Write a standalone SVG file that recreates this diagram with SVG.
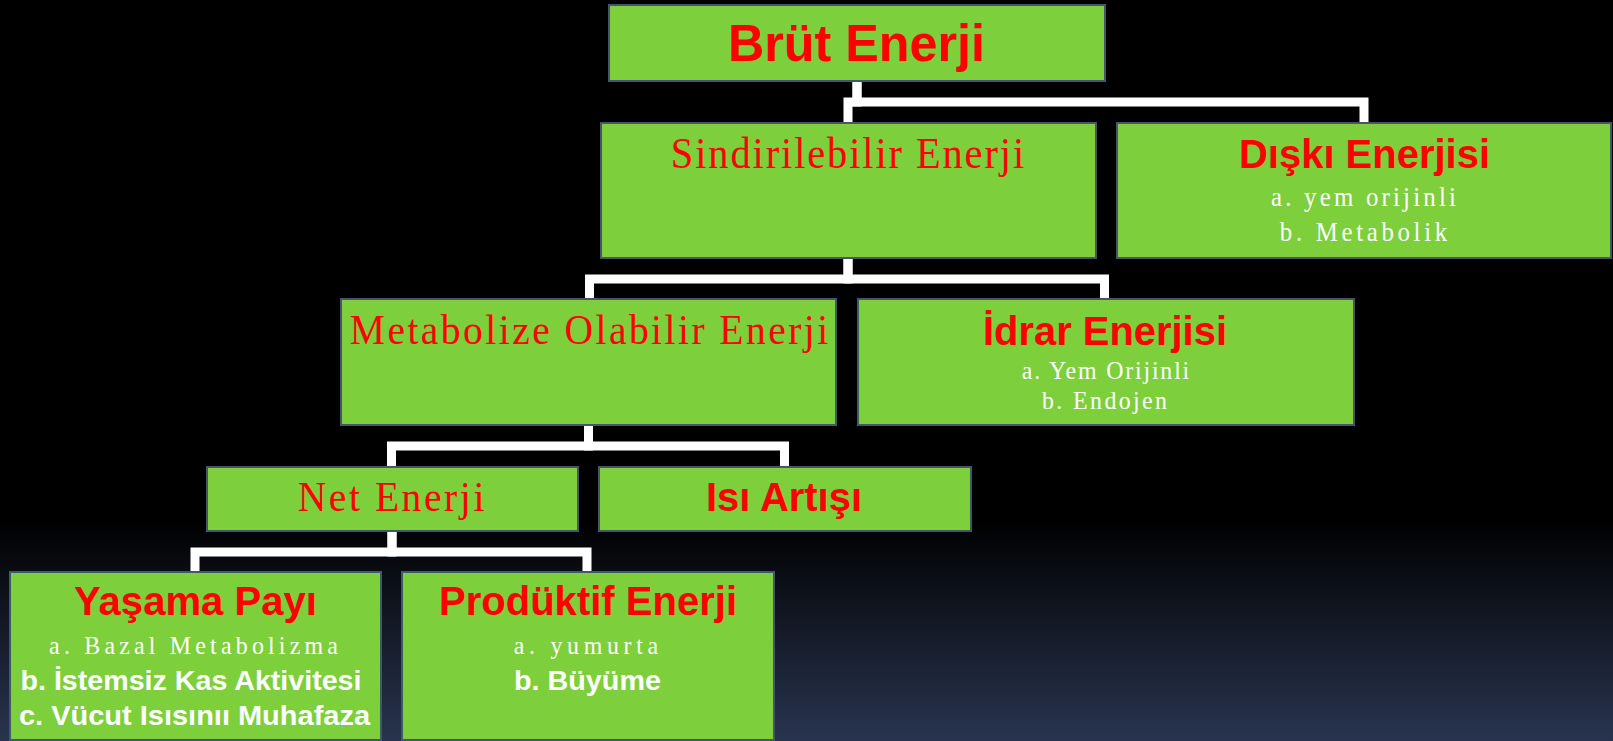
<svg xmlns="http://www.w3.org/2000/svg" width="1613" height="741" viewBox="0 0 1613 741">
<defs>
<linearGradient id="bg" x1="0" y1="0" x2="0" y2="1">
<stop offset="0" stop-color="#000000"/>
<stop offset="0.7" stop-color="#000000"/>
<stop offset="1" stop-color="#28344f"/>
</linearGradient>
<style>
.box{fill:#7dcf3c;stroke:#43576a;stroke-width:2}
.conn{fill:none;stroke:#ffffff;stroke-width:9;stroke-linejoin:miter;stroke-linecap:butt}
.tb{font-family:"Liberation Sans",Arial,sans-serif;font-weight:bold;fill:#ff0000;text-anchor:middle}
.ts{font-family:"Liberation Serif","Times New Roman",serif;fill:#ff0000;text-anchor:middle}
.ws{font-family:"Liberation Serif","Times New Roman",serif;fill:#ffffff;text-anchor:middle}
.wb{font-family:"Liberation Sans",Arial,sans-serif;font-weight:bold;fill:#ffffff;text-anchor:middle}
</style>
</defs>
<rect x="0" y="0" width="1613" height="741" fill="url(#bg)"/>
<g id="connectors">
<path class="conn" d="M857 81 V102 H848 V123"/>
<path class="conn" d="M857 81 V102 H1364 V123"/>
<path class="conn" d="M848 258 V279 H589.5 V299"/>
<path class="conn" d="M848 258 V279 H1104.5 V299"/>
<path class="conn" d="M588.5 425 V446 H391.5 V467"/>
<path class="conn" d="M588.5 425 V446 H784.5 V467"/>
<path class="conn" d="M392 531 V552 H195 V572"/>
<path class="conn" d="M392 531 V552 H587 V572"/>
</g>
<g id="brut">
<rect class="box" x="609" y="5" width="496" height="76"/>
<text class="tb" x="856.5" y="61" font-size="52" textLength="257" lengthAdjust="spacingAndGlyphs">Brüt Enerji</text>
</g>
<g id="sindirilebilir">
<rect class="box" x="601" y="123" width="495" height="135"/>
<text class="ts" transform="translate(847.5 0) scale(0.92 1)" x="0" y="168" font-size="44" textLength="384" lengthAdjust="spacing">Sindirilebilir Enerji</text>
</g>
<g id="diski">
<rect class="box" x="1117" y="123" width="494" height="135"/>
<text class="tb" x="1364.5" y="168" font-size="40" textLength="251" lengthAdjust="spacingAndGlyphs">Dışkı Enerjisi</text>
<text class="ws" transform="translate(1363.5 0) scale(0.92 1)" x="0" y="206" font-size="27" textLength="201" lengthAdjust="spacing">a. yem orijinli</text>
<text class="ws" transform="translate(1363.5 0) scale(0.92 1)" x="0" y="241" font-size="27" textLength="182" lengthAdjust="spacing">b. Metabolik</text>
</g>
<g id="metabolize">
<rect class="box" x="341" y="299" width="495" height="126"/>
<text class="ts" transform="translate(589 0) scale(0.92 1)" x="0" y="344" font-size="43" textLength="520" lengthAdjust="spacing">Metabolize Olabilir Enerji</text>
</g>
<g id="idrar">
<rect class="box" x="858" y="299" width="496" height="126"/>
<text class="tb" x="1105" y="345" font-size="40" textLength="244" lengthAdjust="spacingAndGlyphs">İdrar Enerjisi</text>
<text class="ws" transform="translate(1105.5 0) scale(0.92 1)" x="0" y="379" font-size="26" textLength="182" lengthAdjust="spacing">a. Yem Orijinli</text>
<text class="ws" transform="translate(1104.5 0) scale(0.92 1)" x="0" y="409" font-size="26" textLength="136" lengthAdjust="spacing">b. Endojen</text>
</g>
<g id="net">
<rect class="box" x="207" y="467" width="371" height="64"/>
<text class="ts" transform="translate(391 0) scale(0.92 1)" x="0" y="511" font-size="43" textLength="203" lengthAdjust="spacing">Net Enerji</text>
</g>
<g id="isi">
<rect class="box" x="599" y="467" width="372" height="64"/>
<text class="tb" x="784" y="511" font-size="40" textLength="156" lengthAdjust="spacingAndGlyphs">Isı Artışı</text>
</g>
<g id="yasama">
<rect class="box" x="10" y="572" width="371" height="168"/>
<text class="tb" x="195.5" y="615" font-size="40" textLength="243" lengthAdjust="spacingAndGlyphs">Yaşama Payı</text>
<text class="ws" transform="translate(193.5 0) scale(0.92 1)" x="0" y="654" font-size="26" textLength="314" lengthAdjust="spacing">a. Bazal Metabolizma</text>
<text class="wb" x="191" y="690" font-size="27" textLength="341" lengthAdjust="spacingAndGlyphs">b. İstemsiz Kas Aktivitesi</text>
<text class="wb" x="194.5" y="725" font-size="27" textLength="351" lengthAdjust="spacingAndGlyphs">c. Vücut Isısınıı Muhafaza</text>
</g>
<g id="produktif">
<rect class="box" x="402" y="572" width="372" height="168"/>
<text class="tb" x="588" y="615" font-size="40" textLength="298" lengthAdjust="spacingAndGlyphs">Prodüktif Enerji</text>
<text class="ws" transform="translate(586 0) scale(0.92 1)" x="0" y="654" font-size="26" textLength="157" lengthAdjust="spacing">a. yumurta</text>
<text class="wb" x="587.5" y="690" font-size="27" textLength="147" lengthAdjust="spacingAndGlyphs">b. Büyüme</text>
</g>
</svg>
